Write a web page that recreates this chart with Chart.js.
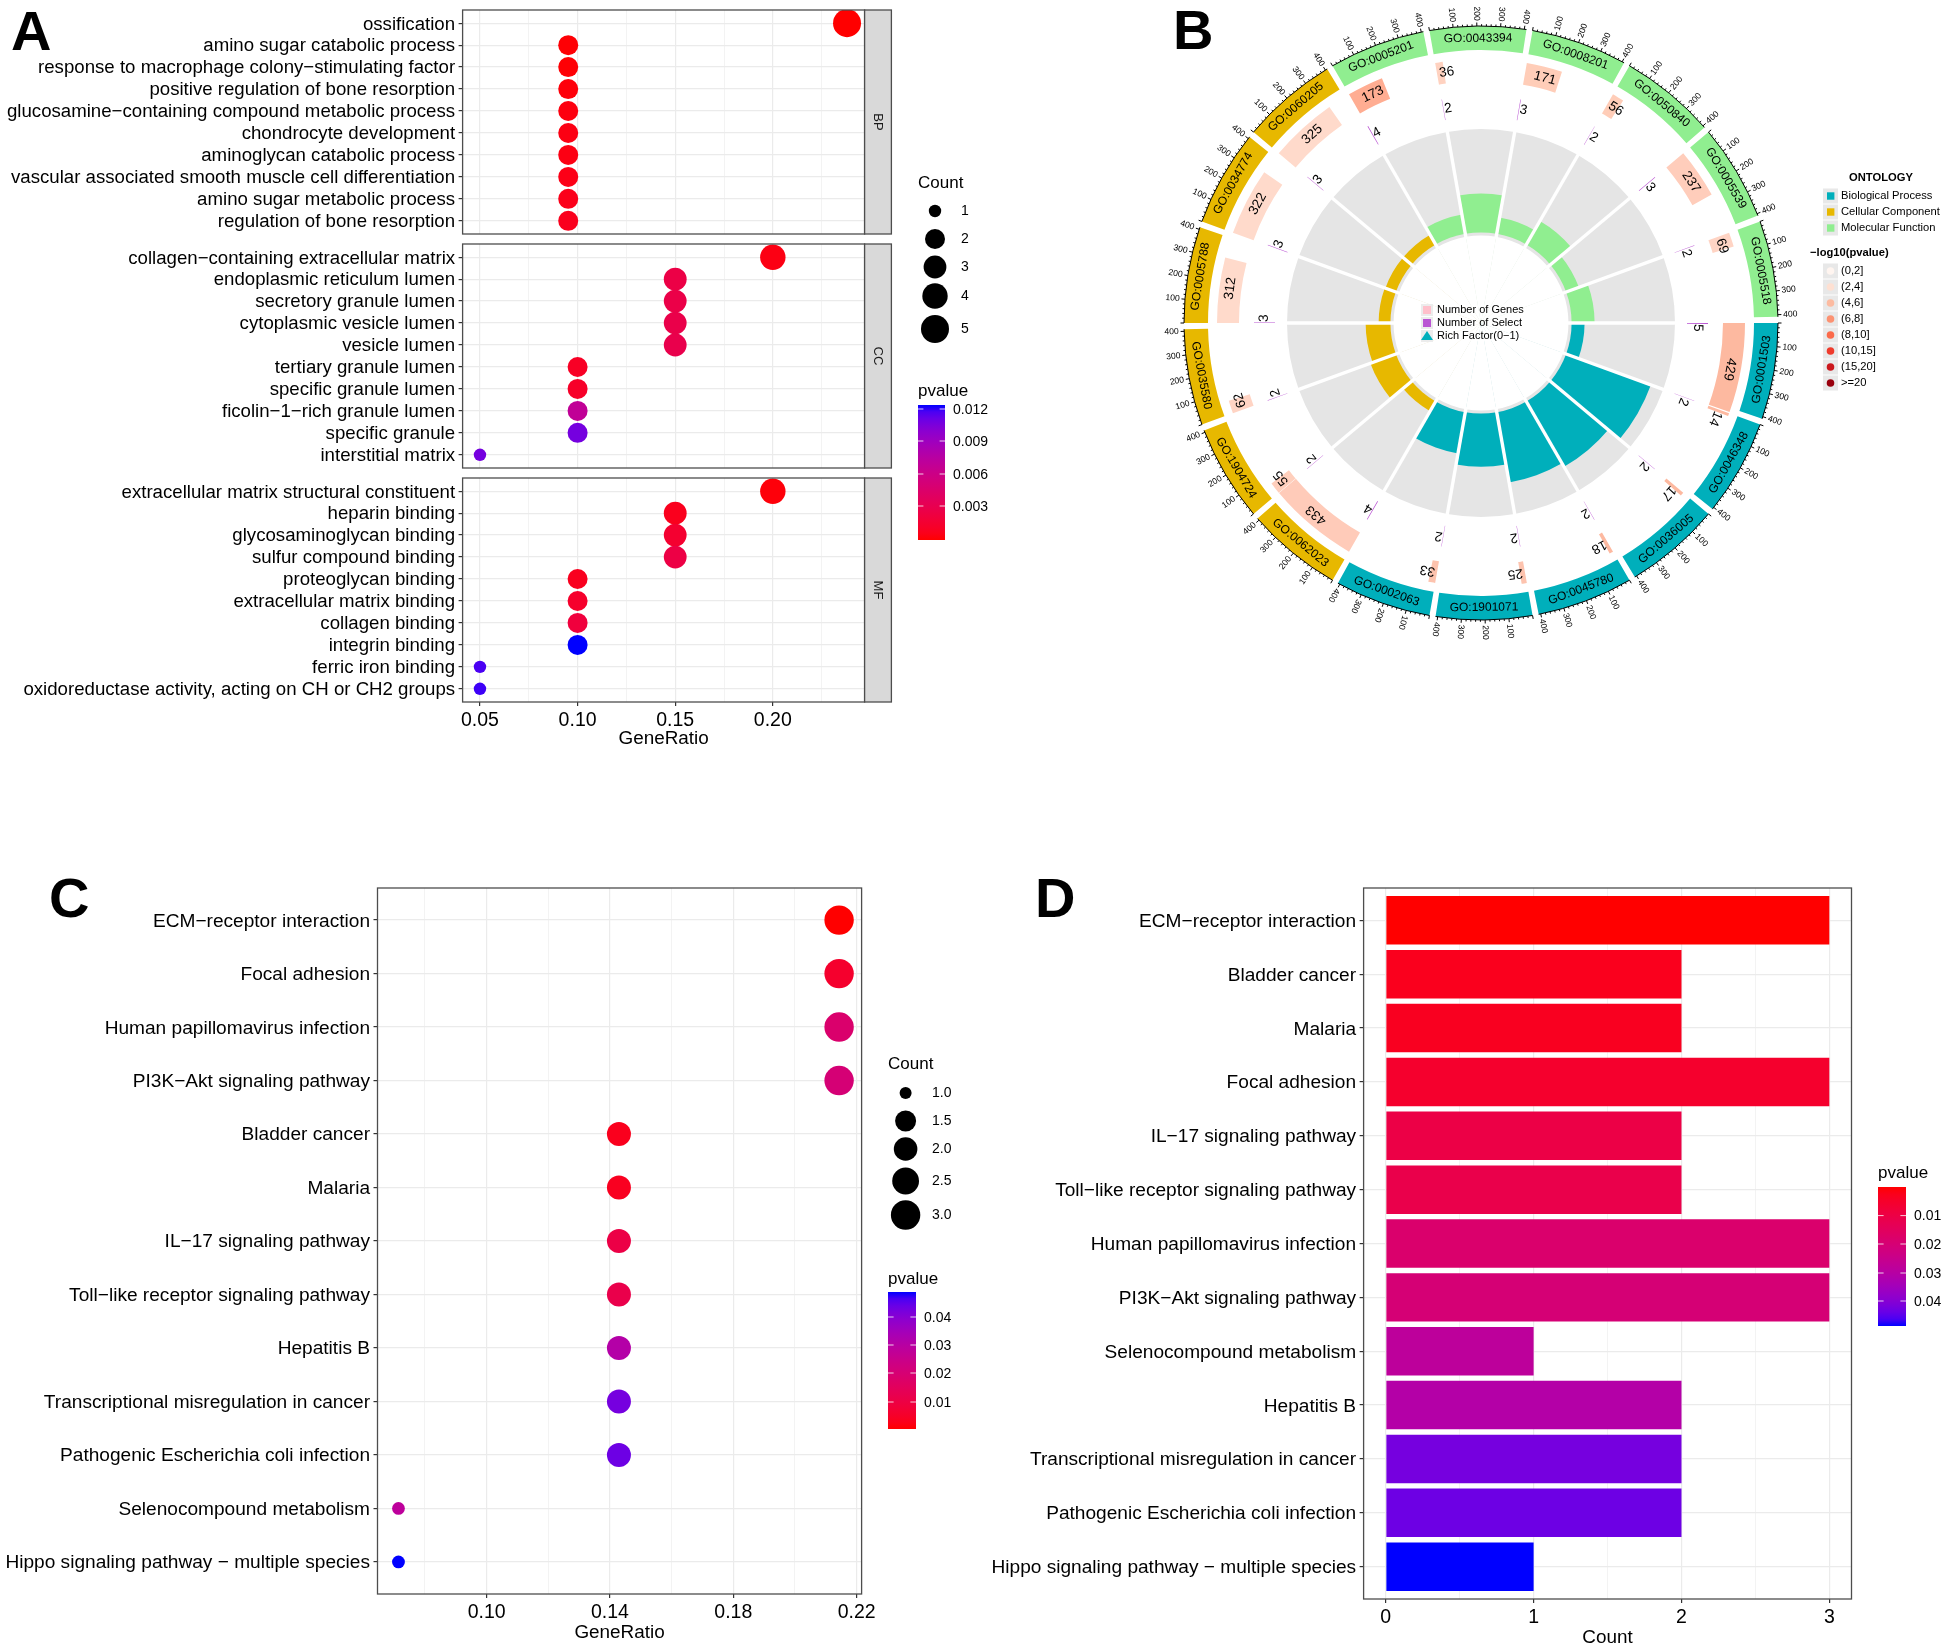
<!DOCTYPE html>
<html>
<head>
<meta charset="utf-8">
<title>Enrichment figure</title>
<script src="https://cdn.jsdelivr.net/npm/chart.js@4/dist/chart.umd.js"></script>
<style>
  html, body { margin: 0; padding: 0; background: #fff; width: 1950px; height: 1652px; overflow: hidden; }
  canvas { position: absolute; }
  .letter { position: absolute; font: bold 56px "Liberation Sans", Arial, sans-serif; line-height: 56px; color: #000; }
</style>
</head>
<body>
<div class="letter" style="left:11px;top:3px">A</div>
<div class="letter" style="left:1173px;top:2px">B</div>
<div class="letter" style="left:49px;top:870px">C</div>
<div class="letter" style="left:1035px;top:870px">D</div>
<script>
// ---- panel A ----
const bpTerms = ["ossification", "amino sugar catabolic process", "response to macrophage colony−stimulating factor", "positive regulation of bone resorption", "glucosamine−containing compound metabolic process", "chondrocyte development", "aminoglycan catabolic process", "vascular associated smooth muscle cell differentiation", "amino sugar metabolic process", "regulation of bone resorption"];
const bpRatio = [0.238, 0.0952, 0.0952, 0.0952, 0.0952, 0.0952, 0.0952, 0.0952, 0.0952, 0.0952];
const bpCount = [5, 2, 2, 2, 2, 2, 2, 2, 2, 2];
const bpP = [0.0001, 0.0002, 0.0002, 0.0003, 0.0004, 0.0005, 0.0005, 0.0006, 0.0007, 0.0008];

const ccTerms = ["collagen−containing extracellular matrix", "endoplasmic reticulum lumen", "secretory granule lumen", "cytoplasmic vesicle lumen", "vesicle lumen", "tertiary granule lumen", "specific granule lumen", "ficolin−1−rich granule lumen", "specific granule", "interstitial matrix"];
const ccRatio = [0.2, 0.15, 0.15, 0.15, 0.15, 0.1, 0.1, 0.1, 0.1, 0.05];
const ccCount = [4, 3, 3, 3, 3, 2, 2, 2, 2, 1];
const ccP = [0.0005, 0.0027, 0.0028, 0.0029, 0.003, 0.0011, 0.0013, 0.007, 0.0108, 0.0108];

const mfTerms = ["extracellular matrix structural constituent", "heparin binding", "glycosaminoglycan binding", "sulfur compound binding", "proteoglycan binding", "extracellular matrix binding", "collagen binding", "integrin binding", "ferric iron binding", "oxidoreductase activity, acting on CH or CH2 groups"];
const mfRatio = [0.2, 0.15, 0.15, 0.15, 0.1, 0.1, 0.1, 0.1, 0.05, 0.05];
const mfCount = [4, 3, 3, 3, 2, 2, 2, 2, 1, 1];
const mfP = [0.0003, 0.0008, 0.0016, 0.0026, 0.0009, 0.0014, 0.0022, 0.0124, 0.0118, 0.012];

// ---- panel B ----
const goIds = ["GO:0001503", "GO:0046348", "GO:0036005", "GO:0045780", "GO:1901071", "GO:0002063", "GO:0062023", "GO:1904724", "GO:0035580", "GO:0005788", "GO:0034774", "GO:0060205", "GO:0005201", "GO:0043394", "GO:0008201", "GO:0050840", "GO:0005539", "GO:0005518"];
const goGenes = [429, 14, 17, 18, 25, 33, 433, 55, 62, 312, 322, 325, 173, 36, 171, 56, 237, 69];
const goSelect = [5, 2, 2, 2, 2, 2, 4, 2, 2, 3, 3, 3, 4, 2, 3, 2, 3, 2];
const goRich = [0.012, 0.143, 0.118, 0.111, 0.08, 0.061, 0.009, 0.036, 0.032, 0.01, 0.009, 0.009, 0.023, 0.056, 0.018, 0.036, 0.013, 0.029];
const goColors = ["#00AFBB", "#00AFBB", "#00AFBB", "#00AFBB", "#00AFBB", "#00AFBB", "#E7B800", "#E7B800", "#E7B800", "#E7B800", "#E7B800", "#E7B800", "#90EE90", "#90EE90", "#90EE90", "#90EE90", "#90EE90", "#90EE90"];
const geneColors = ["#FDB9A0", "#FDB9A0", "#FDB9A0", "#FDB9A0", "#FDC3AE", "#FDC3AE", "#FFCBB9", "#FFCFBC", "#FFD4C4", "#FFDACB", "#FFDACB", "#FFDACB", "#FFAD92", "#FFD2C0", "#FFCDB8", "#FFCDB8", "#FFCDBB", "#FFD4C4"];
const sectorUnits = 435;
const ringUnits = 409;
const axisTicks = [100, 200, 300, 400];
const ontologyNames = ["Biological Process", "Cellular Component", "Molecular Function"];
const ontologyColors = ["#00AFBB", "#E7B800", "#90EE90"];
const binNames = ["(0,2]", "(2,4]", "(4,6]", "(6,8]", "(8,10]", "(10,15]", "(15,20]", ">=20"];
const binColors = ["#FFF5F0", "#FEE0D2", "#FCBBA1", "#FC9272", "#FB6A4A", "#EF3B2C", "#CB181D", "#99000D"];

// ---- panels C and D ----
const cTerms = ["ECM−receptor interaction", "Focal adhesion", "Human papillomavirus infection", "PI3K−Akt signaling pathway", "Bladder cancer", "Malaria", "IL−17 signaling pathway", "Toll−like receptor signaling pathway", "Hepatitis B", "Transcriptional misregulation in cancer", "Pathogenic Escherichia coli infection", "Selenocompound metabolism", "Hippo signaling pathway − multiple species"];
const cRatio = [0.2143, 0.2143, 0.2143, 0.2143, 0.1429, 0.1429, 0.1429, 0.1429, 0.1429, 0.1429, 0.1429, 0.0714, 0.0714];
const cCount = [3, 3, 3, 3, 2, 2, 2, 2, 2, 2, 2, 1, 1];
const cP = [0.0004, 0.0058, 0.0185, 0.0205, 0.0032, 0.0037, 0.0105, 0.0115, 0.031, 0.0425, 0.0435, 0.0285, 0.0489];

const dTerms = ["ECM−receptor interaction", "Bladder cancer", "Malaria", "Focal adhesion", "IL−17 signaling pathway", "Toll−like receptor signaling pathway", "Human papillomavirus infection", "PI3K−Akt signaling pathway", "Selenocompound metabolism", "Hepatitis B", "Transcriptional misregulation in cancer", "Pathogenic Escherichia coli infection", "Hippo signaling pathway − multiple species"];
const dCount = [3, 2, 2, 3, 2, 2, 3, 3, 1, 2, 2, 2, 1];
const dP = [0.0004, 0.0032, 0.0037, 0.0058, 0.0105, 0.0115, 0.0185, 0.0205, 0.0285, 0.031, 0.0425, 0.0435, 0.0489];

const FONT = '"Liberation Sans", Arial, sans-serif';
Chart.defaults.font.family = FONT;
Chart.defaults.color = "#000";

function addCanvas(left, top, w, h) {
  const c = document.createElement("canvas");
  c.width = w; c.height = h;
  c.style.left = left + "px"; c.style.top = top + "px";
  c.style.width = w + "px"; c.style.height = h + "px";
  document.body.appendChild(c);
  return c;
}

// red to blue through Lab, the way ggplot does its gradient
function gradColor(t) {
  const L = 53.24 - 20.94 * t, A = 80.09 - 0.9 * t, B = 67.2 - 175.06 * t;
  const fy = (L + 16) / 116, fx = fy + A / 500, fz = fy - B / 200;
  const inv = f => f > 0.20689 ? f * f * f : (f - 16 / 116) / 7.787;
  const X = 0.95047 * inv(fx), Y = inv(fy), Z = 1.08883 * inv(fz);
  const lin = [3.2406 * X - 1.5372 * Y - 0.4986 * Z, -0.9689 * X + 1.8758 * Y + 0.0415 * Z, 0.0557 * X - 0.204 * Y + 1.057 * Z];
  const out = lin.map(v => {
    v = Math.min(1, Math.max(0, v));
    return Math.round(255 * (v <= 0.0031308 ? 12.92 * v : 1.055 * Math.pow(v, 1 / 2.4) - 0.055));
  });
  return `rgb(${out[0]},${out[1]},${out[2]})`;
}

function text(ctx, s, x, y, font, align, color) {
  ctx.font = font; ctx.textAlign = align || "left"; ctx.textBaseline = "middle";
  ctx.fillStyle = color || "#000";
  ctx.fillText(s, x, y);
}

function colorBar(ctx, x, top, w, h, redOnTop, values, ys, title, titleY) {
  text(ctx, title, x, titleY + 2.5, "17px " + FONT);
  const g = ctx.createLinearGradient(0, top, 0, top + h);
  for (let i = 0; i <= 20; i++) g.addColorStop(i / 20, gradColor(redOnTop ? i / 20 : 1 - i / 20));
  ctx.fillStyle = g;
  ctx.fillRect(x, top, w, h);
  ctx.strokeStyle = "#fff"; ctx.lineWidth = 0.8;
  values.forEach((v, i) => {
    ctx.beginPath();
    ctx.moveTo(x, ys[i]); ctx.lineTo(x + w / 5, ys[i]);
    ctx.moveTo(x + w, ys[i]); ctx.lineTo(x + w - w / 5, ys[i]);
    ctx.stroke();
    text(ctx, v, x + w + 8, ys[i] + 1, "14px " + FONT);
  });
}

function sizeLegend(ctx, x, titleY, dotX, labelX, labels, ys, radii) {
  text(ctx, "Count", x, titleY + 2.5, "17px " + FONT);
  labels.forEach((l, i) => {
    ctx.fillStyle = "#000";
    ctx.beginPath(); ctx.arc(dotX, ys[i] + 1, radii[i], 0, Math.PI * 2); ctx.fill();
    text(ctx, l, labelX, ys[i] + 1, "14px " + FONT);
  });
}

function xAxisOptions(p, majors, minors, fmt) {
  return {
    type: "linear", min: p.xMin, max: p.xMax,
    display: true,
    afterBuildTicks: s => { s.ticks = majors.concat(minors).map(v => ({ value: v })); },
    afterFit: s => { s.height = p.axisHeight; },
    border: { display: false },
    grid: {
      color: "#ebebeb",
      lineWidth: c => majors.includes(c.tick.value) ? 1.2 : 0.6,
      tickColor: c => majors.includes(c.tick.value) ? "#333" : "rgba(0,0,0,0)",
      tickLength: 4, drawTicks: p.showX
    },
    ticks: {
      display: p.showX, autoSkip: false, maxRotation: 0, padding: 2.5,
      font: { size: 19.5 }, color: "#000",
      callback: v => majors.includes(v) ? fmt(v) : ""
    },
    title: { display: p.showX, text: p.xTitle, font: { size: 18.9 }, color: "#000", padding: { top: 0, bottom: 0 } }
  };
}

function yAxisOptions(p, terms) {
  return {
    type: "linear", reverse: true, min: -0.6, max: terms.length - 0.4,
    afterBuildTicks: s => { s.ticks = terms.map((t, i) => ({ value: i })); },
    afterFit: s => { s.width = p.left; },
    border: { display: false },
    grid: { color: "#ebebeb", lineWidth: 1.2, tickColor: "#333", tickLength: 4 },
    ticks: { autoSkip: false, padding: 3.5, labelOffset: 1.2, font: { size: p.labelSize }, color: "#000", callback: v => terms[v] }
  };
}

// panel frame goes over the marks, legends and strips go last
function framePlugin(extra) {
  return {
    id: "frame",
    afterDatasetsDraw(chart) {
      const a = chart.chartArea, ctx = chart.ctx;
      ctx.save();
      ctx.strokeStyle = "#4d4d4d"; ctx.lineWidth = 1.3;
      ctx.strokeRect(a.left, a.top, a.right - a.left, a.bottom - a.top);
      ctx.restore();
    },
    afterDraw(chart) {
      if (!extra) return;
      const ctx = chart.ctx;
      ctx.save();
      extra(ctx, chart);
      ctx.restore();
    }
  };
}

function dotPanel(c, p, terms, ratio, count, pv, majors, minors, fmt, radiusOf, pMin, pMax, extra) {
  return new Chart(c, {
    type: "scatter",
    data: {
      datasets: [{
        data: ratio.map((r, i) => ({ x: r, y: i })),
        pointRadius: ctx => radiusOf[count[ctx.dataIndex]],
        pointBackgroundColor: ctx => gradColor((pv[ctx.dataIndex] - pMin) / (pMax - pMin)),
        pointBorderWidth: 0
      }]
    },
    options: {
      responsive: false, animation: false, devicePixelRatio: 1, events: [],
      layout: { autoPadding: false, padding: { top: p.top, right: p.right, bottom: p.bottom, left: 0 } },
      plugins: { legend: { display: false }, tooltip: { enabled: false } },
      scales: { x: xAxisOptions(p, majors, minors, fmt), y: yAxisOptions(p, terms) }
    },
    plugins: [framePlugin(extra)]
  });
}

// ---- A: three facets on the same box, which starts above the page so the
// first tick label never eats into the top padding ----
const aShift = 40;
const aMajors = [0.05, 0.1, 0.15, 0.2];
const aMinors = [0.075, 0.125, 0.175, 0.225];
const aFmt = v => v.toFixed(2);
const aRadius = { 1: 6.2, 2: 10, 3: 11.4, 4: 12.7, 5: 14 };
const aPMin = 0.0001, aPMax = 0.0124;
const aBase = { left: 462.6, right: 1020 - 864.6, xMin: 0.0411, xMax: 0.247, xTitle: "GeneRatio", labelSize: 18.65 };
const aCanvas = () => addCanvas(0, -aShift, 1020, 760 + aShift);

function strip(label, top, bottom) {
  return (ctx) => {
    ctx.translate(0, aShift);
    ctx.fillStyle = "#D9D9D9";
    ctx.fillRect(864.6, top, 26.8, bottom - top);
    ctx.strokeStyle = "#4d4d4d"; ctx.lineWidth = 1.3;
    ctx.strokeRect(864.6, top, 26.8, bottom - top);
    ctx.translate(878, (top + bottom) / 2);
    ctx.rotate(Math.PI / 2);
    text(ctx, label, 0, 0, "13px " + FONT, "center", "#1a1a1a");
  };
}

dotPanel(aCanvas(), { ...aBase, top: 10 + aShift, bottom: 526, axisHeight: 0, showX: false },
  bpTerms, bpRatio, bpCount, bpP, aMajors, aMinors, aFmt, aRadius, aPMin, aPMax, strip("BP", 10, 234));
dotPanel(aCanvas(), { ...aBase, top: 244 + aShift, bottom: 292, axisHeight: 0, showX: false },
  ccTerms, ccRatio, ccCount, ccP, aMajors, aMinors, aFmt, aRadius, aPMin, aPMax, strip("CC", 244, 468));
dotPanel(aCanvas(), { ...aBase, top: 478 + aShift, bottom: 9.5, axisHeight: 48.5, showX: true },
  mfTerms, mfRatio, mfCount, mfP, aMajors, aMinors, aFmt, aRadius, aPMin, aPMax, (ctx) => {
    ctx.save();
    ctx.translate(0, aShift);
    sizeLegend(ctx, 918, 181, 935, 961, ["1", "2", "3", "4", "5"], [210, 238, 266, 295, 328], [6.2, 10, 11.4, 12.7, 14]);
    colorBar(ctx, 918, 405, 27, 135, false, ["0.012", "0.009", "0.006", "0.003"], [409, 441, 474, 506], "pvalue", 389);
    ctx.restore();
    strip("MF", 478, 702)(ctx);
  });

// ---- B: doughnut rings for the angular tracks ----
const paired = vals => vals.flatMap(v => [v, sectorUnits - v]);
const blank = "rgba(0,0,0,0)";
const pairedColors = cols => cols.flatMap(c => [c, blank]);
const bLeft = 1150, bTop = 0, cx = 331, cy = 323, rOuter = 297;
const rings = [
  { data: paired(goIds.map(() => ringUnits)), backgroundColor: pairedColors(goColors), weight: 24 },
  { data: [1], backgroundColor: [blank], weight: 9 },
  { data: paired(goGenes), backgroundColor: pairedColors(geneColors), weight: 22 },
  { data: [1], backgroundColor: [blank], weight: 15 },
  { data: paired(goSelect), backgroundColor: pairedColors(goIds.map(() => "#BA55D3")), weight: 21 }
];
rings.forEach(r => { r.borderWidth = 0; });

const deg = Math.PI / 180;
function polarText(ctx, s, x0, y0, r, a, rot, font) {
  ctx.save();
  ctx.translate(x0 + r * Math.cos(a), y0 + r * Math.sin(a));
  ctx.rotate(rot);
  text(ctx, s, 0, 0, font, "center");
  ctx.restore();
}

const ringLabels = {
  id: "ringLabels",
  afterDraw(chart) {
    const ctx = chart.ctx;
    const outer = chart.getDatasetMeta(0).data, genes = chart.getDatasetMeta(2).data, sel = chart.getDatasetMeta(4).data;
    const x0 = outer[0].x, y0 = outer[0].y;
    ctx.save();
    goIds.forEach((id, i) => {
      const ring = outer[2 * i];
      const mid = (ring.startAngle + ring.endAngle) / 2;
      const unit = (ring.endAngle - ring.startAngle) / ringUnits;
      // outer axis line with ticks
      ctx.strokeStyle = "#000"; ctx.lineWidth = 1;
      ctx.beginPath(); ctx.arc(x0, y0, rOuter, ring.startAngle, ring.endAngle); ctx.stroke();
      for (let t = 0; t <= 400; t += 20) {
        const a = ring.startAngle + t * unit, len = t % 100 === 0 ? 3.5 : 1.8;
        ctx.beginPath();
        ctx.moveTo(x0 + rOuter * Math.cos(a), y0 + rOuter * Math.sin(a));
        ctx.lineTo(x0 + (rOuter + len) * Math.cos(a), y0 + (rOuter + len) * Math.sin(a));
        ctx.stroke();
      }
      axisTicks.forEach(t => {
        const a = ring.startAngle + t * unit, d = a / deg;
        polarText(ctx, String(t), x0, y0, rOuter + 12.5, a, d > 120 && d < 280 ? a + Math.PI : a, "8.6px " + FONT);
      });
      polarText(ctx, id, x0, y0, 284.5, mid, mid < Math.PI ? mid - Math.PI / 2 : mid + Math.PI / 2, "12px " + FONT);
      const g = genes[2 * i], gw = g.endAngle - g.startAngle;
      const ga = g.startAngle + Math.max(2.2 * deg, gw / 2 + 0.7 * deg);
      polarText(ctx, String(goGenes[i]), x0, y0, 253, ga, ga + Math.PI / 2, "13.5px " + FONT);
      const sa = sel[2 * i].startAngle + 1.3 * deg;
      polarText(ctx, String(goSelect[i]), x0, y0, 217, sa, sa + Math.PI / 2, "13.5px " + FONT);
    });
    // legends on the right, page coordinates
    ctx.translate(-bLeft, -bTop);
    text(ctx, "ONTOLOGY", 1881, 178, "bold 11.2px " + FONT, "center");
    ontologyNames.forEach((n, i) => {
      const y = 196 + 16 * i;
      ctx.fillStyle = "#e8e8e8"; ctx.fillRect(1823, y - 7.5, 15, 15);
      ctx.fillStyle = ontologyColors[i]; ctx.fillRect(1827, y - 3.7, 7.4, 7.4);
      text(ctx, n, 1841, y, "11.2px " + FONT);
    });
    text(ctx, "−log10(pvalue)", 1810, 253, "bold 11.2px " + FONT);
    binNames.forEach((n, i) => {
      const y = 271 + 16 * i;
      ctx.fillStyle = "#e8e8e8"; ctx.fillRect(1823, y - 7.5, 15, 15);
      ctx.fillStyle = binColors[i];
      ctx.beginPath(); ctx.arc(1830.5, y, 3.8, 0, Math.PI * 2); ctx.fill();
      text(ctx, n, 1841, y, "11.2px " + FONT);
    });
    ctx.restore();
  }
};

new Chart(addCanvas(bLeft, bTop, 800, 660), {
  type: "doughnut",
  data: { datasets: rings },
  options: {
    responsive: false, animation: false, devicePixelRatio: 1, events: [],
    rotation: 90, cutout: 206,
    layout: { padding: { left: cx - rOuter, right: 800 - cx - rOuter, top: cy - rOuter, bottom: 660 - cy - rOuter } },
    plugins: { legend: { display: false }, tooltip: { enabled: false } }
  },
  plugins: [ringLabels]
});

// ---- B: polar wedges for the rich factor, centred on the same point ----
const polarSize = 392;
const richTrack = 0.16525, richFloor = -0.01, holeEdge = -0.0153;
const constant = v => goIds.map(() => v);
const spokes = {
  id: "spokes",
  afterDatasetsDraw(chart) {
    const ctx = chart.ctx, s = chart.scales.r;
    ctx.save();
    ctx.strokeStyle = "#fff"; ctx.lineWidth = 3.4;
    const reach = s.getDistanceFromCenterForValue(s.max);
    const inner = s.getDistanceFromCenterForValue(holeEdge) - 2;
    goIds.forEach((id, i) => {
      const a = i * 20 * deg;
      ctx.beginPath();
      ctx.moveTo(s.xCenter + inner * Math.cos(a), s.yCenter + inner * Math.sin(a));
      ctx.lineTo(s.xCenter + reach * Math.cos(a), s.yCenter + reach * Math.sin(a));
      ctx.stroke();
    });
    // centre key
    ctx.translate(-(bLeft + cx - polarSize / 2), -(bTop + cy - polarSize / 2));
    [["Number of Genes", "#FFC0CB"], ["Number of Select", "#BA55D3"], ["Rich Factor(0−1)", "#00AFBB"]].forEach((k, i) => {
      const y = 310 + 13 * i;
      ctx.fillStyle = "#ececec"; ctx.fillRect(1421, y - 6, 12, 12);
      ctx.fillStyle = k[1];
      if (i < 2) ctx.fillRect(1423, y - 4, 8, 8);
      else { ctx.beginPath(); ctx.moveTo(1427, y - 5); ctx.lineTo(1433, y + 4); ctx.lineTo(1421, y + 4); ctx.closePath(); ctx.fill(); }
      text(ctx, k[0], 1437, y, "11px " + FONT);
    });
    ctx.restore();
  }
};

new Chart(addCanvas(bLeft + cx - polarSize / 2, bTop + cy - polarSize / 2, polarSize, polarSize), {
  type: "polarArea",
  data: {
    labels: goIds,
    datasets: [
      { data: constant(holeEdge), backgroundColor: "#fff", borderWidth: 0 },
      { data: constant(richFloor), backgroundColor: "#e5e5e5", borderWidth: 0 },
      { data: goRich, backgroundColor: goColors, borderWidth: 0 },
      { data: constant(richTrack), backgroundColor: "#e5e5e5", borderWidth: 0 }
    ]
  },
  options: {
    responsive: false, animation: false, devicePixelRatio: 1, events: [],
    plugins: { legend: { display: false }, tooltip: { enabled: false } },
    scales: {
      r: {
        startAngle: 90, min: -0.16356, max: 0.16864,
        ticks: { display: false }, grid: { display: false },
        angleLines: { display: false }, pointLabels: { display: false }
      }
    }
  },
  plugins: [spokes]
});

// ---- C ----
const cPMin = 0.0004, cPMax = 0.0489;
dotPanel(addCanvas(0, 860, 1000, 792),
  { left: 377.5, right: 138.4, top: 28, bottom: 7.5, axisHeight: 50.5, showX: true, xMin: 0.0646, xMax: 0.2216, xTitle: "GeneRatio", labelSize: 19.1 },
  cTerms, cRatio, cCount, cP, [0.1, 0.14, 0.18, 0.22], [0.08, 0.12, 0.16, 0.2], v => v.toFixed(2),
  { 1: 6.4, 2: 12, 3: 14.7 }, cPMin, cPMax, (ctx) => {
    ctx.translate(0, -860);
    sizeLegend(ctx, 888, 1062, 905.6, 932, ["1.0", "1.5", "2.0", "2.5", "3.0"], [1092, 1120, 1148, 1180, 1214], [6, 10.5, 11.8, 13.4, 14.7]);
    colorBar(ctx, 888, 1292, 28, 137, false, ["0.04", "0.03", "0.02", "0.01"], [1317, 1345, 1373, 1402], "pvalue", 1277);
  });

// ---- D ----
const dLeft = 975;
const dPanel = { left: 1363.6 - dLeft, right: 98.5, top: 28, bottom: 3, axisHeight: 50, showX: true, xMin: -0.15, xMax: 3.15, xTitle: "Count", labelSize: 19.1 };
new Chart(addCanvas(dLeft, 860, 1950 - dLeft, 792), {
  type: "bar",
  data: {
    datasets: [{
      data: dCount.map((v, i) => ({ x: v, y: i })),
      backgroundColor: dP.map(p => gradColor((p - cPMin) / (cPMax - cPMin))),
      borderWidth: 0, barPercentage: 0.9, categoryPercentage: 1
    }]
  },
  options: {
    indexAxis: "y",
    responsive: false, animation: false, devicePixelRatio: 1, events: [],
    layout: { autoPadding: false, padding: { top: dPanel.top, right: dPanel.right, bottom: dPanel.bottom, left: 0 } },
    plugins: { legend: { display: false }, tooltip: { enabled: false } },
    scales: {
      x: xAxisOptions(dPanel, [0, 1, 2, 3], [0.5, 1.5, 2.5], v => String(v)),
      y: { ...yAxisOptions(dPanel, dTerms), offset: false, grid: { color: "#ebebeb", lineWidth: 1.2, tickColor: "#333", tickLength: 4, offset: false } }
    }
  },
  plugins: [framePlugin((ctx) => {
    ctx.translate(-dLeft, -860);
    colorBar(ctx, 1878, 1187, 28, 139, true, ["0.01", "0.02", "0.03", "0.04"], [1215.6, 1244, 1273, 1301], "pvalue", 1171);
  })]
});
</script>
</body>
</html>
